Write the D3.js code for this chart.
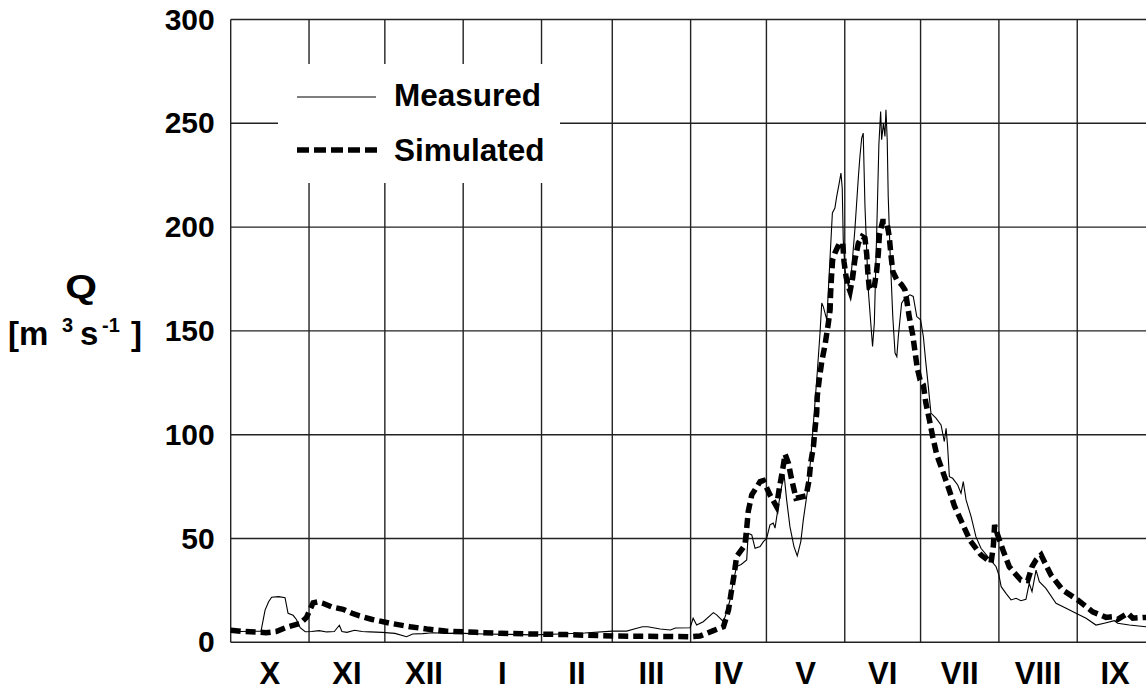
<!DOCTYPE html>
<html>
<head>
<meta charset="utf-8">
<script src="https://cdn.jsdelivr.net/npm/d3@7"></script>
<style>
  html, body { margin: 0; padding: 0; background: #fff; }
  svg { display: block; }
  text { font-family: "Liberation Sans", Arial, Helvetica, sans-serif; font-weight: bold; fill: #000; }
</style>
</head>
<body>
<svg id="chart" width="1146" height="691"></svg>
<script>
// ---- data (day offset from 1 October, discharge Q in m3/s) ----
const monthLabels = ["X","XI","XII","I","II","III","IV","V","VI","VII","VIII","IX"];
const yTicks = [0, 50, 100, 150, 200, 250, 300];

const measuredDays = [0,4,8,12,13.6,15,16.2,19,21.5,22.7,24.7,26,27.5,29.5,32,35,38,41,43,44,46,49,52,55,60,65,69.6,72,76,80,85,90,95,100,110,120,130,140,151,156.7,160,163,165,170,174,176,181.8,183,184.4,187,191,192.3,195,196.3,197.6,199,200.2,202,204.2,204.8,206.2,207.5,209.5,210.8,212.1,213.4,214.7,215.4,216.7,218,219,220,221.3,222.9,224.2,225.6,226.6,228.2,229.5,230.3,231.2,232.1,233.2,233.9,234.5,235.9,237.2,238.1,239.1,239.8,240.8,241.5,242,242.4,243.1,244.4,245.7,247,248.4,249,249.7,250.3,251,252.3,253.3,254,254.7,255.9,256.5,257.2,257.6,258.3,258.9,259.3,259.8,260.2,260.9,262,262.9,263.6,264.2,265.5,266.8,268.8,270.1,271.5,273,274.1,275.1,275.8,277.1,279.1,281.1,282.4,283.1,283.7,284.4,285.7,287.7,289,289.9,291,293,294.9,296.9,299.6,302.9,304,304.9,306.8,308.8,310.8,312.7,314.7,316,317.1,318.7,320,322.6,326.6,330.6,334.5,338.5,342.4,345.7,349.7,351,355.6,362.2,365];
const measuredQ = [5.4,5.2,5.3,5.4,15.5,19.5,21.7,22,21.5,14,13,11,7,5.1,5.2,5.6,5.0,5.2,8.2,5.2,4.8,5.8,5.2,5.0,4.8,4.3,2.7,4.0,4.2,4.6,4.3,4.4,4.2,4.0,3.8,3.6,4.0,4.5,5.4,5.4,6.5,7.5,7.5,6.4,5.9,6.9,7,11.6,8.3,9.9,14.3,13.2,9.9,14.8,20.4,30,36.5,37.5,39.7,52.5,51.7,45.3,46.1,48.5,50.1,56.6,57.4,55,65.4,75,80.7,68.6,55.7,46.1,41.6,48.5,59,72.6,87.9,100.8,115.2,129.7,148.9,163.4,161.7,155.3,185.8,206.8,209.2,214.7,221.2,226,218.8,193.9,179.4,171.4,179.4,198.7,224.4,234,242.9,245.3,209.9,169.8,153.7,142.5,153.7,209.9,239.7,255.7,242.1,250.1,243.7,256.5,242.1,214.7,189,156.9,139.3,137.6,147.3,163.4,165.8,167.4,166.6,156.9,155.3,147.3,134.5,126.4,110.4,108,104.7,96.7,103.1,94.3,79.8,79,75.8,71.8,77.4,68.6,60.5,50.9,45.3,41.3,36.4,32.4,26.8,23.6,20.4,21.2,20,20.7,28.4,24.4,34.8,29.2,26,18.8,16.4,14,11.6,8.3,9.2,10.4,9.2,8.3,7.5,7.3];

const simulatedDays = [0,5,10,14,18,22.7,27.5,30,32.6,34.5,36.5,40,44.5,48,51,56,63,71,77.6,85,97,106.6,119.7,133,151.4,165,181.8,185.7,191,195,197,198,199.2,200.2,203.5,204.2,204.8,206.2,209.5,210.8,213.4,216,217.1,218.3,219.4,220.7,222,223.7,227.7,228.9,229.5,230.6,231.2,231.9,232.1,232.9,233.9,235.2,236.5,237.2,237.4,237.8,238.2,239.1,240.8,242.2,242.7,243.5,244.4,245.1,246.1,247,248.4,249.9,251,251.7,252.1,252.7,253.7,254.6,255.6,256.3,256.7,258,259.6,260.6,261.2,262,263.6,265.5,266.8,267.5,268.5,269.9,270.8,271.7,272.8,274.1,275.1,276.5,277.8,279.4,281.8,284.1,286.4,289.4,292.6,296.9,300.9,301.8,302.3,303.5,305.7,308.1,310.1,312.7,315.4,317.1,318.7,320.7,322,324.6,329.2,335.2,341.1,346.4,349,351,355,357,361,365];
const simulatedQ = [5.8,5.2,5.0,4.6,5.2,7.5,9.1,12,19,19.5,18.8,17,15.9,14,12.7,11,9.2,7.5,6.4,5.4,4.8,4.3,4.0,3.7,3.0,2.9,2.7,3.0,5.6,7.5,15.6,23.6,32.4,41.3,46.9,55,63,71,77.4,77.9,71,65.4,74.2,82.3,90.6,86.3,78.3,69.4,70.5,78.3,86.3,94.3,102.4,110.4,118.4,126.5,135.2,143.3,153.7,160.2,168.2,177,184.2,187.5,192,192.3,183.4,176.2,171.4,169,175.4,184.2,192.3,195.5,194.7,186.7,178.6,170.6,169.8,170.6,178.6,187.5,196.3,202.7,202.7,195.5,187.5,178.6,174.6,172.2,169.8,165,156.9,148.1,140,132,126.4,124,115.2,107.1,99.1,90.3,82.2,74.2,65.7,57.6,49,42.1,38.4,46.4,56.5,51.7,44.1,36.4,33.5,30,29.7,36.4,39.7,42.1,38.8,32.4,25.2,20.4,14.7,12,12.3,11.1,14,11.6,12,12];

// ---- layout ----
const W = 1146, H = 691;
const margin = { left: 230.7, top: 19.5, bottom: 691 - 642.3 };
const pxPerDay = 2.527;
const start = Date.UTC(2001, 9, 1), end = Date.UTC(2002, 9, 1);
const dayMs = 864e5;

const svg = d3.select("#chart");
svg.append("rect").attr("width", W).attr("height", H).attr("fill", "#fff");

const x = d3.scaleUtc()
  .domain([new Date(start), new Date(end)])
  .range([margin.left, margin.left + 365 * pxPerDay]);
const y = d3.scaleLinear().domain([0, 300]).range([H - margin.bottom, margin.top]);
const toDate = d => new Date(start + d * dayMs);

const gridColor = "#222";
const monthStarts = d3.utcMonth.range(new Date(start), new Date(end));

// vertical grid lines (month boundaries)
svg.append("g").selectAll("line")
  .data(monthStarts.slice(1))
  .join("line")
  .attr("x1", d => x(d)).attr("x2", d => x(d))
  .attr("y1", y(300)).attr("y2", y(0))
  .attr("stroke", gridColor).attr("stroke-width", 1.4);

// horizontal grid lines
svg.append("g").selectAll("line")
  .data(yTicks)
  .join("line")
  .attr("x1", x.range()[0]).attr("x2", x.range()[1])
  .attr("y1", d => y(d)).attr("y2", d => y(d))
  .attr("stroke", gridColor).attr("stroke-width", 1.4);

// left frame
svg.append("line")
  .attr("x1", x.range()[0]).attr("x2", x.range()[0])
  .attr("y1", y(300)).attr("y2", y(0))
  .attr("stroke", gridColor).attr("stroke-width", 1.4);

// y axis labels
const yAxis = d3.axisLeft(y).tickValues(yTicks).tickSize(0).tickPadding(16).tickFormat(d3.format("d"));
const gy = svg.append("g").attr("transform", `translate(${x.range()[0]},0)`).call(yAxis);
gy.select(".domain").remove();
gy.selectAll("text")
  .attr("font-family", "Liberation Sans, Arial, sans-serif")
  .attr("font-weight", "bold")
  .attr("font-size", 30)
  .attr("fill", "#000");

// month labels centered in each month
const monthMid = monthStarts.map(d => new Date((+d + +d3.utcMonth.offset(d, 1)) / 2));
svg.append("g").selectAll("text")
  .data(monthLabels)
  .join("text")
  .attr("x", (d, i) => x(monthMid[i]))
  .attr("y", 684)
  .attr("text-anchor", "middle")
  .attr("font-size", 31)
  .text(d => d);

// y axis title
svg.append("text").attr("transform", "translate(81,298) scale(1.2,1)")
  .attr("text-anchor", "middle").attr("font-size", 34).text("Q");
const yt = svg.append("text").attr("y", 345).attr("font-size", 33);
yt.append("tspan").attr("x", 8).text("[m");
yt.append("tspan").attr("x", 62).attr("dy", -13).attr("font-size", 20).text("3");
yt.append("tspan").attr("x", 80).attr("dy", 13).text("s");
yt.append("tspan").attr("x", 102).attr("dy", -13).attr("font-size", 20).text("-1");
yt.append("tspan").attr("x", 131).attr("dy", 13).text("]");

// legend box (white background hides grid)
svg.append("rect").attr("x", 278).attr("y", 64).attr("width", 282).attr("height", 119).attr("fill", "#fff");

// series
const line = d3.line().x(d => x(toDate(d[0]))).y(d => y(d[1]));
const measured = measuredDays.map((d, i) => [d, measuredQ[i]]);
const simulated = simulatedDays.map((d, i) => [d, simulatedQ[i]]);

svg.append("path").datum(measured)
  .attr("d", line).attr("fill", "none").attr("stroke", "#000").attr("stroke-width", 1.1);
svg.append("path").datum(simulated)
  .attr("d", line).attr("fill", "none").attr("stroke", "#000").attr("stroke-width", 5.5)
  .attr("stroke-dasharray", "10,5");

// legend
svg.append("line").attr("x1", 297).attr("x2", 376).attr("y1", 97).attr("y2", 97)
  .attr("stroke", "#000").attr("stroke-width", 1.1);
svg.append("text").attr("x", 394).attr("y", 106).attr("font-size", 31.5).text("Measured");
svg.append("line").attr("x1", 297).attr("x2", 378).attr("y1", 150).attr("y2", 150)
  .attr("stroke", "#000").attr("stroke-width", 5.5).attr("stroke-dasharray", "12,5");
svg.append("text").attr("x", 394).attr("y", 161).attr("font-size", 31.5).text("Simulated");
</script>
</body>
</html>
